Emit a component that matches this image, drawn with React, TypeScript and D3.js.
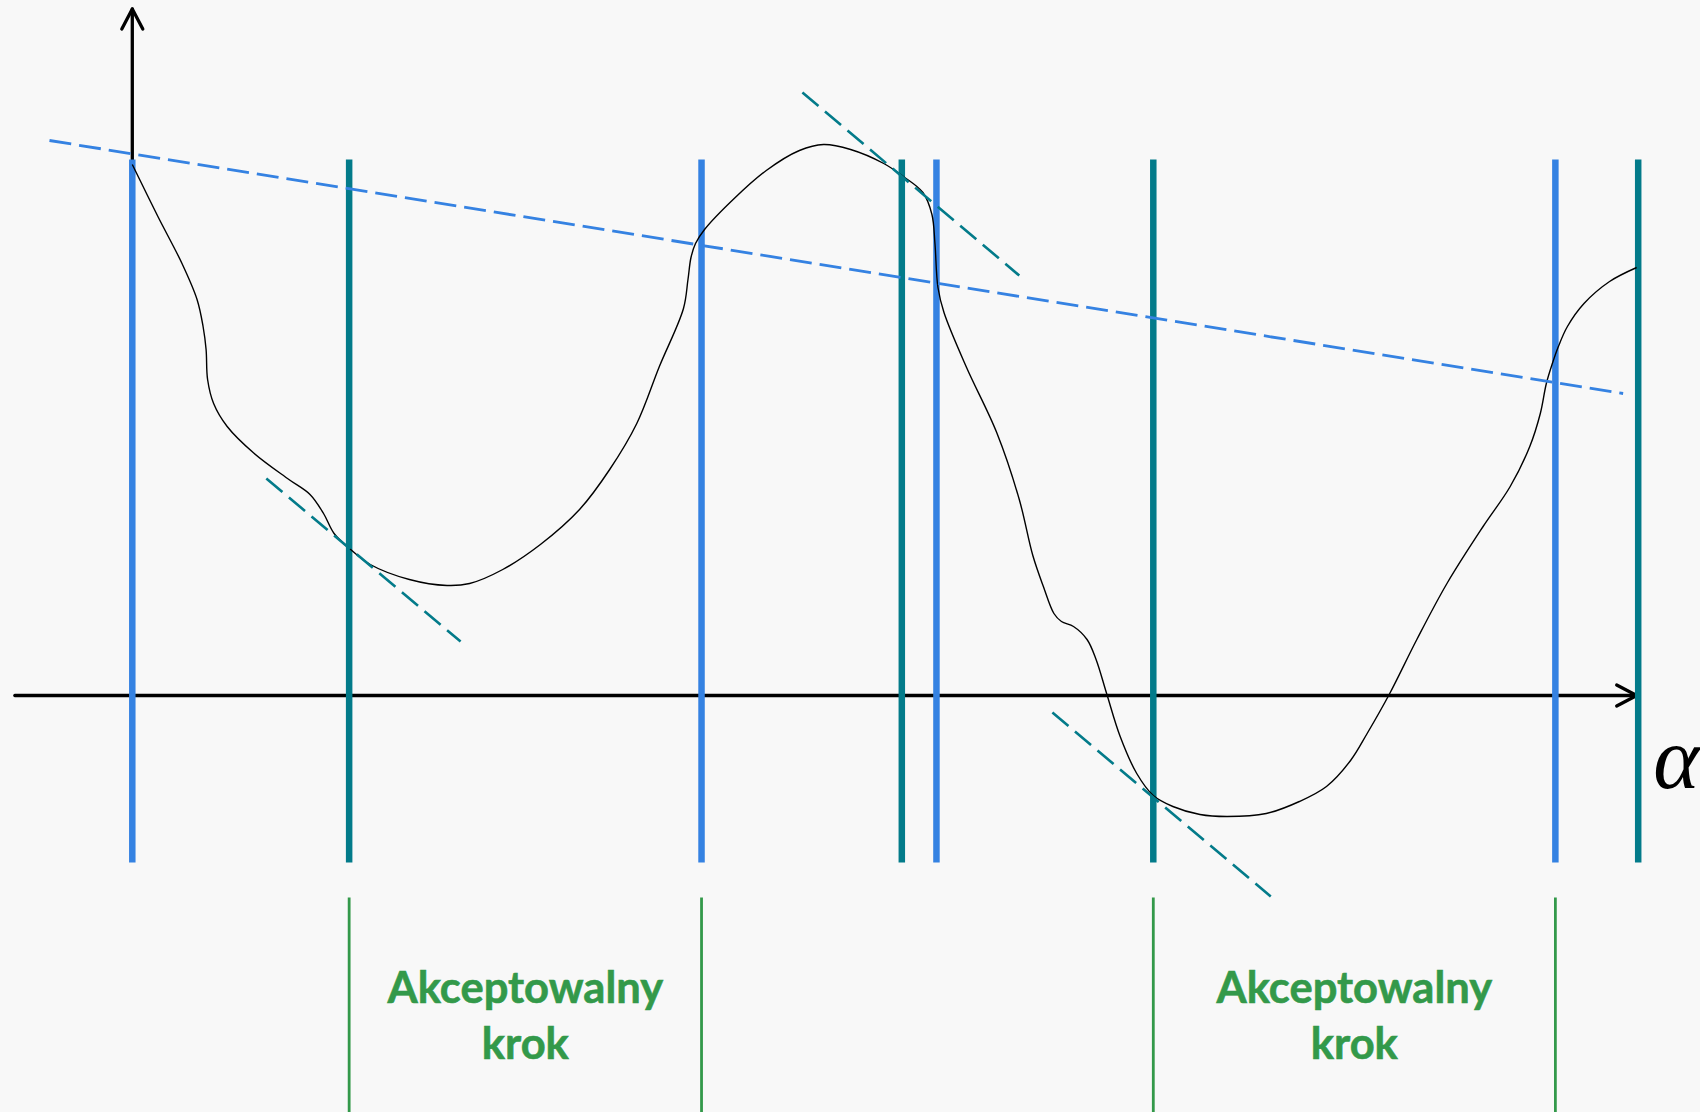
import React from 'react';
import * as d3 from 'd3';

// objective along the search direction: [alpha, f(alpha)]
const CURVE: [number, number][] = [
  [0.0, 5.31], [0.17, 4.79], [0.33, 4.32], [0.43, 3.96], [0.47, 3.69], [0.49, 3.46],
  [0.5, 3.16], [0.54, 2.92], [0.63, 2.69], [0.81, 2.42], [1.04, 2.16], [1.18, 2.01],
  [1.27, 1.82], [1.34, 1.62], [1.45, 1.46], [1.58, 1.31], [1.84, 1.16], [2.09, 1.1],
  [2.24, 1.12], [2.46, 1.26], [2.71, 1.51], [2.97, 1.86], [3.17, 2.26], [3.35, 2.72],
  [3.5, 3.29], [3.66, 3.87], [3.69, 4.16], [3.71, 4.38], [3.74, 4.52], [3.8, 4.66],
  [3.99, 4.96], [4.21, 5.25], [4.43, 5.45], [4.59, 5.51], [4.77, 5.46], [4.99, 5.32],
  [5.12, 5.19], [5.25, 5.03], [5.31, 4.81], [5.33, 4.52], [5.35, 4.08], [5.39, 3.83],
  [5.54, 3.28], [5.74, 2.63], [5.89, 1.96], [5.98, 1.4], [6.05, 1.09],
  [6.12, 0.82], [6.17, 0.74], [6.25, 0.69], [6.34, 0.56], [6.4, 0.36], [6.47, 0.02],
  [6.56, -0.41], [6.67, -0.78], [6.78, -1.0], [6.91, -1.11], [7.09, -1.19], [7.27, -1.21],
  [7.53, -1.18], [7.75, -1.06], [7.93, -0.91], [8.09, -0.65], [8.2, -0.38], [8.35, 0.02],
  [8.53, 0.56], [8.73, 1.12], [8.97, 1.69], [9.15, 2.09], [9.28, 2.49], [9.35, 2.82],
  [9.39, 3.12], [9.43, 3.32], [9.47, 3.49], [9.53, 3.69], [9.64, 3.92], [9.81, 4.14],
  [9.99, 4.28],
];

// vertical step markers
const STEP_ALPHAS = [0, 1.44, 3.78, 5.11, 5.34, 6.78, 9.45, 10];
const STEP_KINDS = ['armijo', 'curv', 'armijo', 'curv', 'armijo', 'curv', 'armijo', 'curv'];
const STEP_EXTENT = [-1.67, 5.36];

// sufficient decrease line and slope (tangent) segments
const ARMIJO_LINE: [number, number][] = [[-0.55, 5.55], [9.9, 3.02]];
const TANGENTS: [number, number][][] = [
  [[0.89, 2.17], [2.18, 0.54]],
  [[4.45, 6.03], [5.89, 4.2]],
  [[6.11, -0.17], [7.56, -2.01]],
];

// accepted intervals
const ACCEPT_INTERVALS: [number, number][] = [[1.44, 3.78], [6.78, 9.45]];
const LABEL_LINES = ['Akceptowalny', 'krok'];

const W = 1700;
const H = 1112;
const BLUE = '#3582e2';
const TEAL = '#037b8a';
const GREEN = '#33994a';

export default function App() {
  const x = d3.scaleLinear().domain([0, 10]).range([132.3, 1638.2]);
  const y = d3.scaleLinear().domain([0, 5]).range([695.5, 195.5]);

  const line = d3.line<[number, number]>()
    .x(d => x(d[0]))
    .y(d => y(d[1]))
    .curve(d3.curveCatmullRom.alpha(0.5));
  const straight = d3.line<[number, number]>().x(d => x(d[0])).y(d => y(d[1]));

  const x0 = x(0);
  const y0 = y(0);
  const yTop = y(6.865);
  const xLeft = x(-0.78);
  const xRight = x(9.99);
  const greenTop = y(-2.02);

  return (
    <svg width={W} height={H} style={{ position: 'absolute', left: 0, top: 0 }}>
      <rect width={W} height={H} fill="#f8f8f8" />

      {/* axes */}
      <g stroke="#000" strokeWidth={3.3} fill="none" strokeLinecap="round" strokeLinejoin="round">
        <line x1={xLeft} y1={y0} x2={xRight} y2={y0} />
        <path d={`M${xRight - 20},${y0 - 10.5}L${xRight},${y0}L${xRight - 20},${y0 + 10.5}`} />
        <line x1={x0} y1={y(STEP_EXTENT[1])} x2={x0} y2={yTop} />
        <path d={`M${x0 - 10.5},${yTop + 20}L${x0},${yTop}L${x0 + 10.5},${yTop + 20}`} />
      </g>

      {/* step markers */}
      {STEP_ALPHAS.map((a, i) => (
        <line key={i} x1={x(a)} x2={x(a)} y1={y(STEP_EXTENT[1])} y2={y(STEP_EXTENT[0])}
          stroke={STEP_KINDS[i] === 'armijo' ? BLUE : TEAL} strokeWidth={6.5} />
      ))}

      {/* function */}
      <path d={line(CURVE) || ''} fill="none" stroke="#000" strokeWidth={1.4} />

      {/* sufficient decrease line */}
      <path d={straight(ARMIJO_LINE) || ''} fill="none" stroke={BLUE} strokeWidth={2.8}
        strokeDasharray="22 8" />

      {/* tangents */}
      {TANGENTS.map((t, i) => (
        <path key={i} d={straight(t) || ''} fill="none" stroke={TEAL} strokeWidth={2.6}
          strokeDasharray="21 8.5" />
      ))}

      {/* accepted intervals */}
      {ACCEPT_INTERVALS.map(([a, b], i) => (
        <g key={i}>
          <line x1={x(a)} x2={x(a)} y1={greenTop} y2={H} stroke={GREEN} strokeWidth={2.8} />
          <line x1={x(b)} x2={x(b)} y1={greenTop} y2={H} stroke={GREEN} strokeWidth={2.8} />
          <text x={x((a + b) / 2)} y={greenTop + 105} textAnchor="middle" fill={GREEN}
            fontFamily="Lato, 'Open Sans', sans-serif" fontWeight="bold" fontSize={43.5}
            stroke={GREEN} strokeWidth={0.6}>
            {LABEL_LINES.map((l, j) => (
              <tspan key={j} x={x((a + b) / 2)} dy={j === 0 ? 0 : 56.6}>{l}</tspan>
            ))}
          </text>
        </g>
      ))}

      <text x={x(10) + 15} y={y0 + 92} fontFamily="'Liberation Serif', 'DejaVu Serif', serif"
        fontStyle="italic" fontSize={88} fill="#000">α</text>
    </svg>
  );
}
